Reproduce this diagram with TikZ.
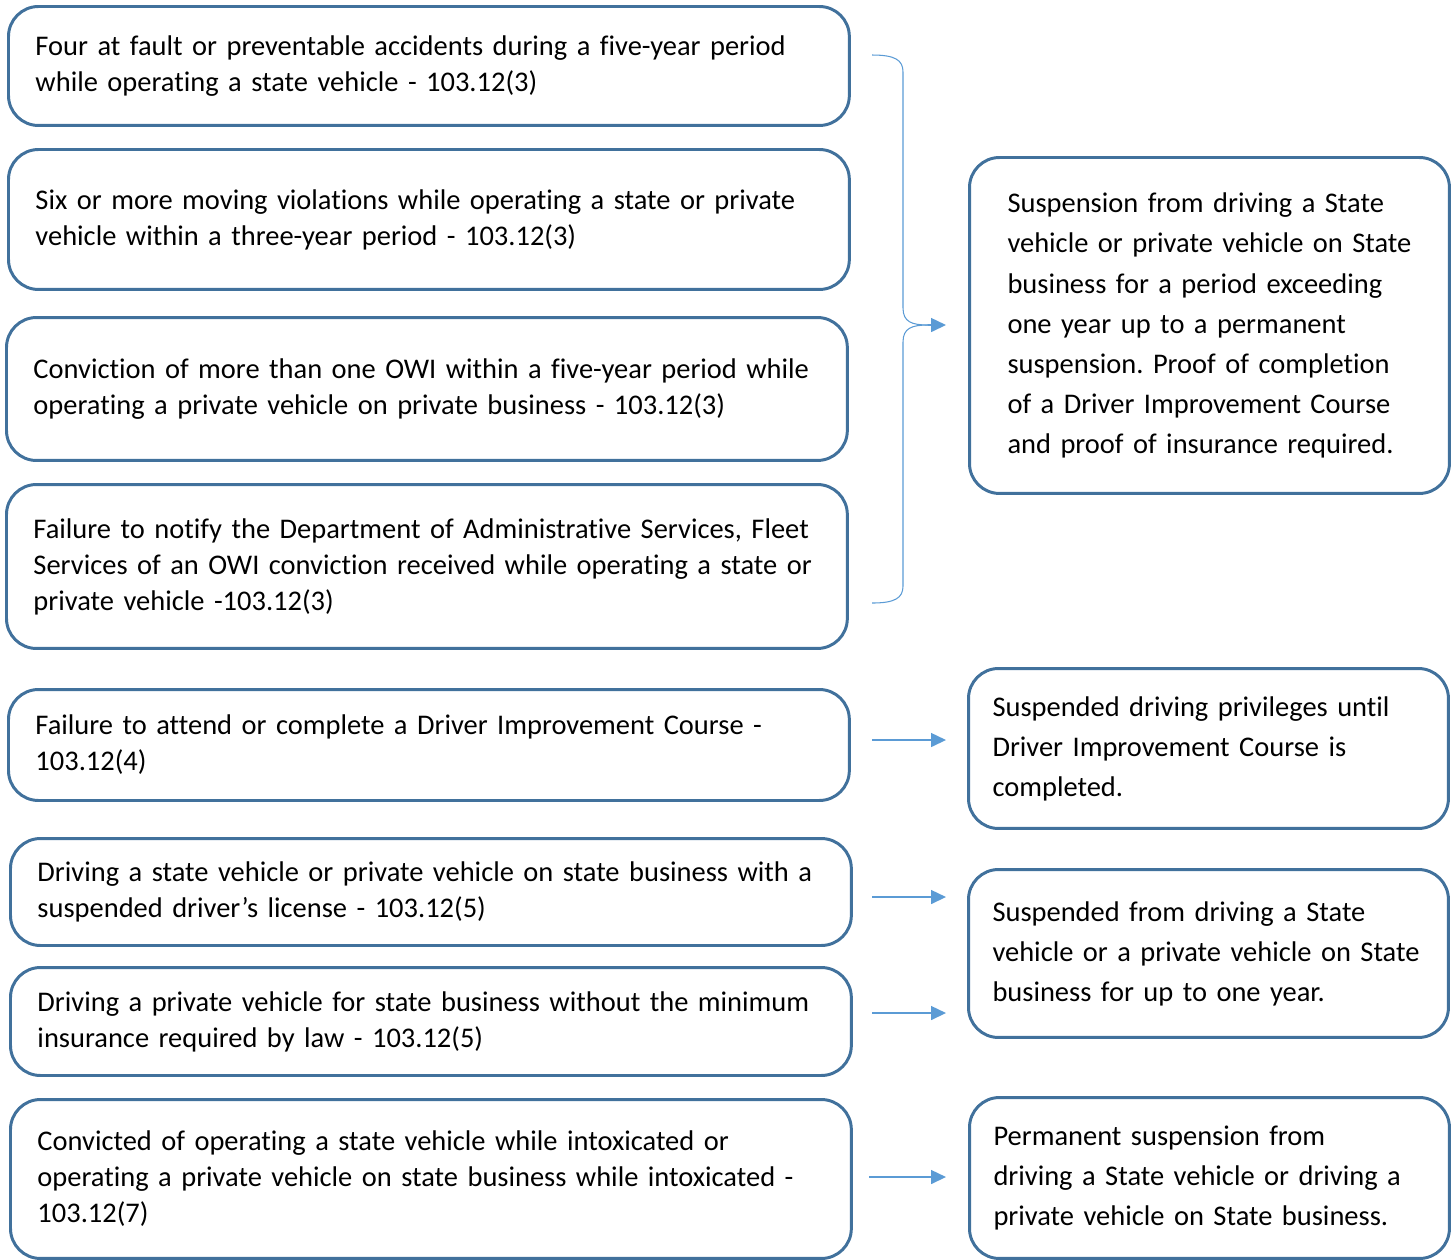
\documentclass[tikz,border=0pt]{standalone}
\usepackage{fontspec}
\setmainfont{Carlito}[Ligatures=NoCommon]
\frenchspacing
\usetikzlibrary{arrows.meta}
\definecolor{boxblue}{HTML}{41719C}
\definecolor{arrowblue}{HTML}{5B9BD5}
\tikzset{
	leftbox/.style={draw=boxblue, line width=1.7pt, rounded corners=0.6cm, anchor=north west, align=left,
		inner xsep=0.54cm, inner ysep=0pt, text width=15.74cm, minimum width=16.82cm,
		font=\fontsize{16.2}{20.5}\selectfont},
	rightbox/.style={draw=boxblue, line width=1.7pt, rounded corners=0.6cm, anchor=north west, align=left,
		inner xsep=0.48cm, inner ysep=0pt, text width=8.64cm, minimum width=9.6cm,
		font=\fontsize{16.2}{22.8}\selectfont},
	arrowline/.style={draw=arrowblue, line width=0.85pt, -{Triangle[length=0.3cm, width=0.28cm]}},
	braceline/.style={draw=arrowblue, line width=0.6pt}
}
\begin{document}
\begin{tikzpicture}[x=0.02cm, y=-0.02cm]
	\useasboundingbox (0,0) rectangle (1452,1259);

	% causes
	\node[leftbox, minimum height=2.38cm] (l1) at (7,5) {Four at fault or preventable accidents during a five-year period\\while operating a state vehicle - 103.12(3)};
	\node[leftbox, minimum height=2.80cm] (l2) at (7,148) {Six or more moving violations while operating a state or private\\vehicle within a three-year period - 103.12(3)};
	\node[leftbox, minimum height=2.86cm] (l3) at (5,316) {Conviction of more than one OWI within a five-year period while\\operating a private vehicle on private business - 103.12(3)};
	\node[leftbox, minimum height=3.28cm] (l4) at (5,483) {Failure to notify the Department of Administrative Services, Fleet\\Services of an OWI conviction received while operating a state or\\private vehicle -103.12(3)};
	\node[leftbox, minimum height=2.22cm] (l5) at (7,688) {Failure to attend or complete a Driver Improvement Course -\\103.12(4)};
	\node[leftbox, minimum height=2.14cm] (l6) at (9,837) {Driving a state vehicle or private vehicle on state business with a\\suspended driver’s license - 103.12(5)};
	\node[leftbox, minimum height=2.16cm] (l7) at (9,966) {Driving a private vehicle for state business without the minimum\\insurance required by law - 103.12(5)};
	\node[leftbox, minimum height=3.18cm] (l8) at (9,1098) {Convicted of operating a state vehicle while intoxicated or\\operating a private vehicle on state business while intoxicated -\\103.12(7)};

	% results
	\node[rightbox, inner xsep=0.74cm, text width=8.08cm, minimum height=6.72cm] (r1) at (968,156) {Suspension from driving a State\\vehicle or private vehicle on State\\business for a period exceeding\\one year up to a permanent\\suspension. Proof of completion\\of a Driver Improvement Course\\and proof of insurance required.};
	\node[rightbox, minimum height=3.20cm] (r2) at (967,667) {Suspended driving privileges until\\Driver Improvement Course is\\completed.};
	\node[rightbox, minimum height=3.36cm] (r3) at (967,868) {Suspended from driving a State\\vehicle or a private vehicle on State\\business for up to one year.};
	\node[rightbox, minimum height=3.22cm] (r4) at (968,1096) {Permanent suspension from\\driving a State vehicle or driving a\\private vehicle on State business.};

	% brace
	\coordinate (bt) at (872,55);
	\coordinate (bb) at (872,603);
	\coordinate (bm) at (928,325);
	\draw[braceline] (bt) .. controls (895,55) and (903,60) .. (903,72) -- (903,308) .. controls (903,322) and (912,325) .. (bm);
	\draw[braceline] (bb) .. controls (895,603) and (903,598) .. (903,586) -- (903,342) .. controls (903,328) and (912,325) .. (bm);
	\coordinate (b1) at (946,325);
	\draw[arrowline] (bm) -- (b1);

	% arrows
	\foreach \n/\y/\s in {5/740/872,6/897/872,7/1013/872,8/1177/869}
	{
		\coordinate (a\n) at (\s,\y);
		\coordinate (b\n) at (946,\y);
		\draw[arrowline] (a\n) -- (b\n);
	}
\end{tikzpicture}
\end{document}
